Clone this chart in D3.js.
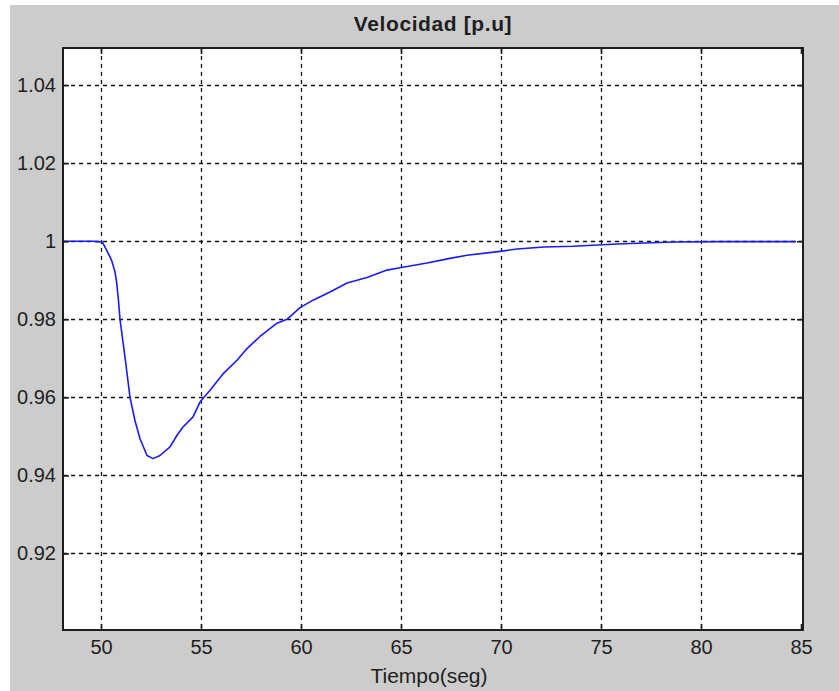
<!DOCTYPE html>
<html>
<head>
<meta charset="utf-8">
<script src="https://cdn.jsdelivr.net/npm/d3@7"></script>
<style>
  html, body { margin: 0; padding: 0; background: #ffffff; }
  svg { display: block; }
  text { font-family: "Liberation Sans", Arial, sans-serif; fill: #1e1e1e; }
</style>
</head>
<body>
<svg id="chart" width="839" height="691"></svg>
<script>
// Rotor speed response after the disturbance (per unit)
const tiempo = [48.1, 49.0, 49.6, 49.8, 50.05, 50.15, 50.28, 50.4, 50.53, 50.7, 50.78, 50.87, 50.95, 51.2, 51.45, 51.7, 51.95,
  52.3, 52.6, 52.95, 53.45, 53.8, 54.1, 54.6, 54.95, 55.45, 56.1, 56.8, 57.3, 57.95, 58.8, 59.3, 59.95,
  60.6, 61.45, 62.3, 63.3, 64.3, 64.95, 66.3, 67.45, 68.3, 69.95, 70.8, 72.15, 73.6, 75.8, 78.6, 81.0, 84.75];
const velocidad = [1.0, 1.0, 1.0, 0.9999, 0.9998, 0.9990, 0.9977, 0.9965, 0.9951, 0.9921, 0.9896, 0.9850, 0.980, 0.9703, 0.960, 0.954, 0.9494,
  0.9451, 0.9443, 0.9451, 0.9473, 0.9503, 0.9524, 0.955, 0.9588, 0.9618, 0.966, 0.9695, 0.9725, 0.9756, 0.9790, 0.980, 0.983,
  0.9849, 0.987, 0.9893, 0.9907, 0.9926, 0.9932, 0.9944, 0.9956, 0.9964, 0.9974, 0.998, 0.9985, 0.9987, 0.9993, 0.9998, 0.9999, 0.9999];

const xTicks = [50, 55, 60, 65, 70, 75, 80, 85];
const yTicks = [0.92, 0.94, 0.96, 0.98, 1.00, 1.02, 1.04];
const yTickLabels = ["0.92", "0.94", "0.96", "0.98", "1", "1.02", "1.04"];

const titulo = "Velocidad [p.u]";
const etiquetaX = "Tiempo(seg)";

const svg = d3.select("#chart");

// figure background
svg.append("rect").attr("x", 10).attr("y", 5).attr("width", 829).attr("height", 686).attr("fill", "#cccccc");

const plot = { left: 63, top: 48, right: 803, bottom: 630 };

const x = d3.scaleLinear().domain([48.1, 85.1]).range([plot.left, plot.right]);
const y = d3.scaleLinear().domain([0.9004, 1.0495]).range([plot.bottom, plot.top]);

// axes area
svg.append("rect")
  .attr("x", plot.left).attr("y", plot.top)
  .attr("width", plot.right - plot.left).attr("height", plot.bottom - plot.top)
  .attr("fill", "#ffffff");

// grid
const grid = svg.append("g").attr("stroke", "#111").attr("stroke-width", 1.3).attr("stroke-dasharray", "4,4").attr("fill", "none");
grid.selectAll("line.vx").data(xTicks.filter(d => x(d) < plot.right - 3)).join("line")
  .attr("x1", d => Math.round(x(d)) + 0.5).attr("x2", d => Math.round(x(d)) + 0.5)
  .attr("y1", plot.top).attr("y2", plot.bottom);
grid.selectAll("line.hy").data(yTicks).join("line")
  .attr("y1", d => Math.round(y(d)) + 0.5).attr("y2", d => Math.round(y(d)) + 0.5)
  .attr("x1", plot.left).attr("x2", plot.right);

// curve
const line = d3.line().x((d, i) => x(tiempo[i])).y(d => y(d));
svg.append("path")
  .datum(velocidad)
  .attr("d", line)
  .attr("fill", "none")
  .attr("stroke", "#1a1aff")
  .attr("stroke-width", 1.6)
  .attr("stroke-linejoin", "round");

// axes with inward ticks on all four sides
const tickLen = 6;
const bottomAxis = d3.axisBottom(x).tickValues(xTicks).tickSize(-tickLen).tickPadding(10).tickFormat(d3.format("d"));
const topAxis = d3.axisTop(x).tickValues(xTicks).tickSize(-tickLen).tickFormat("");
const leftAxis = d3.axisLeft(y).tickValues(yTicks).tickSize(-tickLen).tickPadding(7).tickFormat((d, i) => yTickLabels[i]);
const rightAxis = d3.axisRight(y).tickValues(yTicks).tickSize(-tickLen).tickFormat("");

function styleAxis(g) {
  g.select(".domain").remove();
  g.selectAll(".tick line").attr("stroke", "#1e1e1e").attr("stroke-width", 1.6);
  g.selectAll(".tick text").attr("font-size", 20).attr("fill", "#1e1e1e")
    .attr("font-family", "'Liberation Sans', Arial, sans-serif");
}

svg.append("g").attr("transform", `translate(0,${plot.bottom})`).call(bottomAxis).call(styleAxis);
svg.append("g").attr("transform", `translate(0,${plot.top})`).call(topAxis).call(styleAxis);
svg.append("g").attr("transform", `translate(${plot.left},0)`).call(leftAxis).call(styleAxis);
svg.append("g").attr("transform", `translate(${plot.right},0)`).call(rightAxis).call(styleAxis);

// frame
svg.append("rect")
  .attr("x", plot.left).attr("y", plot.top)
  .attr("width", plot.right - plot.left).attr("height", plot.bottom - plot.top)
  .attr("fill", "none").attr("stroke", "#1e1e1e").attr("stroke-width", 2);

// title and axis label
svg.append("text").attr("x", 433).attr("y", 31).attr("text-anchor", "middle")
  .attr("font-size", 21).attr("font-weight", "bold").attr("letter-spacing", 0.6).text(titulo);
svg.append("text").attr("x", 429).attr("y", 683).attr("text-anchor", "middle")
  .attr("font-size", 21).text(etiquetaX);
</script>
</body>
</html>
